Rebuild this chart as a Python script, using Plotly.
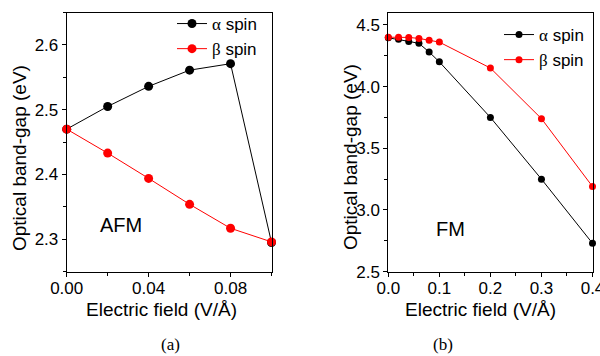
import plotly.graph_objects as go

# Panel (a) AFM
afm_field = [0.00, 0.02, 0.04, 0.06, 0.08, 0.10]
afm_alpha = [2.470, 2.505, 2.536, 2.561, 2.571, 2.295]
afm_beta = [2.470, 2.433, 2.394, 2.354, 2.317, 2.296]

# Panel (b) FM
fm_field = [0.00, 0.02, 0.04, 0.06, 0.08, 0.10, 0.20, 0.30, 0.40]
fm_alpha = [4.395, 4.383, 4.366, 4.350, 4.280, 4.200, 3.750, 3.250, 2.730]
fm_beta = [4.400, 4.400, 4.398, 4.390, 4.376, 4.360, 4.150, 3.740, 3.190]

# tick labels
afm_xticks = [0.00, 0.04, 0.08]
afm_yticks = [2.3, 2.4, 2.5, 2.6]
fm_xticks = [0.0, 0.1, 0.2, 0.3, 0.4]
fm_yticks = [2.5, 3.0, 3.5, 4.0, 4.5]

alpha_name = "<span style='font-family:Liberation Serif'>α</span> spin"
beta_name = "<span style='font-family:Liberation Serif'>β</span> spin"

FONT = "Liberation Sans, Arial, sans-serif"
RED = "#ff0000"

fig = go.Figure()

fig.add_trace(go.Scatter(x=afm_field, y=afm_alpha, mode="lines+markers", name=alpha_name,
                         line=dict(color="black", width=1), marker=dict(color="black", size=9),
                         xaxis="x", yaxis="y", legend="legend", cliponaxis=False))
fig.add_trace(go.Scatter(x=afm_field, y=afm_beta, mode="lines+markers", name=beta_name,
                         line=dict(color=RED, width=1), marker=dict(color=RED, size=9),
                         xaxis="x", yaxis="y", legend="legend", cliponaxis=False))
fig.add_trace(go.Scatter(x=fm_field, y=fm_alpha, mode="lines+markers", name=alpha_name,
                         line=dict(color="black", width=1), marker=dict(color="black", size=7),
                         xaxis="x2", yaxis="y2", legend="legend2", cliponaxis=False))
fig.add_trace(go.Scatter(x=fm_field, y=fm_beta, mode="lines+markers", name=beta_name,
                         line=dict(color=RED, width=1), marker=dict(color=RED, size=7),
                         xaxis="x2", yaxis="y2", legend="legend2", cliponaxis=False))

axis_common = dict(showline=True, linecolor="black", linewidth=1, mirror=True,
                   ticks="outside", ticklen=4, tickcolor="black", showgrid=False,
                   zeroline=False, automargin=False, ticklabeloverflow="allow",
                   tickfont=dict(family=FONT, size=17, color="black"))

ydom = [1 - 271.7 / 356, 1 - 12.5 / 356]

fig.update_layout(
    width=600, height=356,
    margin=dict(l=0, r=0, t=0, b=0, autoexpand=False),
    paper_bgcolor="white", plot_bgcolor="white",
    font=dict(family=FONT, color="black"),
    xaxis=dict(domain=[66.7 / 600, 271.7 / 600], range=[0, 0.1001], tickvals=afm_xticks,
               tickformat=".2f", anchor="y", ticklabelstandoff=-3,
               minor=dict(tickvals=[0.02, 0.06, 0.10], ticks="outside", ticklen=3, tickcolor="black"),
               **axis_common),
    yaxis=dict(domain=ydom, range=[2.25, 2.65], tickvals=afm_yticks, tickformat=".1f",
               anchor="x",
               minor=dict(dtick=0.05, ticks="outside", ticklen=3, tickcolor="black"),
               **axis_common),
    xaxis2=dict(domain=[388.3 / 600, 592.7 / 600], range=[0, 0.4004], tickvals=fm_xticks,
                tickformat=".1f", anchor="y2", ticklabelstandoff=-3,
                minor=dict(dtick=0.05, ticks="outside", ticklen=3, tickcolor="black"),
                **axis_common),
    yaxis2=dict(domain=ydom, range=[2.5, 4.6], tickvals=fm_yticks, tickformat=".1f",
                anchor="x2",
                minor=dict(dtick=0.25, ticks="outside", ticklen=3, tickcolor="black"),
                **axis_common),
    legend=dict(x=172 / 600, y=1 - 6 / 356, xanchor="left", yanchor="top",
                bgcolor="rgba(0,0,0,0)", font=dict(family=FONT, size=17, color="black"),
                tracegroupgap=0, itemwidth=30),
    legend2=dict(x=499 / 600, y=1 - 17 / 356, xanchor="left", yanchor="top",
                 bgcolor="rgba(0,0,0,0)", font=dict(family=FONT, size=17, color="black"),
                 tracegroupgap=0, itemwidth=30),
    showlegend=True,
)

annots = [
    dict(text="Electric field (V/Å)", x=161 / 600, y=1 - 309 / 356, font=dict(size=19)),
    dict(text="Electric field (V/Å)", x=480 / 600, y=1 - 309 / 356, font=dict(size=19)),
    dict(text="Optical band-gap (eV)", x=19 / 600, y=1 - 158 / 356, textangle=-90, font=dict(size=19)),
    dict(text="Optical band-gap (eV)", x=350 / 600, y=1 - 157 / 356, textangle=-90, font=dict(size=19)),
    dict(text="AFM", x=121 / 600, y=1 - 225 / 356, font=dict(size=20)),
    dict(text="FM", x=450 / 600, y=1 - 229 / 356, font=dict(size=20)),
    dict(text="(a)", x=170 / 600, y=1 - 344 / 356, font=dict(size=17, family="Liberation Serif, Times New Roman, serif")),
    dict(text="(b)", x=443 / 600, y=1 - 344 / 356, font=dict(size=17, family="Liberation Serif, Times New Roman, serif")),
]
for a in annots:
    a.update(xref="paper", yref="paper", showarrow=False, xanchor="center", yanchor="middle")
    a["font"].setdefault("family", FONT)
    a["font"]["color"] = "black"
    fig.add_annotation(**a)

fig.write_html("out.html", config={"displayModeBar": False},
               post_script="document.body.style.margin='0';document.body.style.padding='0';")
